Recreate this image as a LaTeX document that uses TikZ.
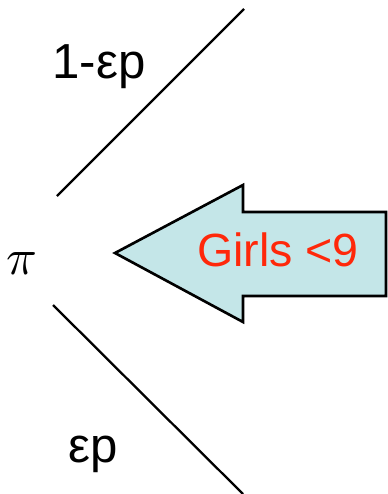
\documentclass[tikz,border=0pt]{standalone}
\usepackage{fontspec}
\setmainfont{Liberation Sans}
\definecolor{arrowfill}{RGB}{196, 230, 232}
\definecolor{girlsred}{RGB}{255, 40, 10}
\usetikzlibrary{positioning, calc}

\begin{document}
\begin{tikzpicture}[x=0.02cm, y=-0.02cm,
  branch/.style={line width=1.3pt},
  problabel/.style={font=\fontsize{28}{32}\selectfont, inner sep=0pt},
  bigarrow/.style={draw=black, line width=1.5pt, fill=arrowfill, line join=miter}
]
  \useasboundingbox (0,0) rectangle (387,494);
  % root and branches
  \node[inner sep=0pt] (root) at (22,264) {\scalebox{2.9}{$\pi$}};
  \coordinate (upstart) at (57,196);
  \coordinate (upend) at (244,9);
  \coordinate (lowstart) at (53,305);
  \coordinate (lowend) at (243,494);
  \draw[branch] (upstart) -- (upend);
  \draw[branch] (lowstart) -- (lowend);
  \node[problabel, anchor=base west] (uplabel) at (52,78) {1-εp};
  \node[problabel, anchor=base west] (lowlabel) at (68,462) {εp};
  % arrow pointing at the root
  \coordinate (tip) at (115,253);
  \draw[bigarrow] (tip) -- (243,185) -- (243,212) -- (386,212) -- (386,296)
    -- (243,296) -- (243,322) -- cycle;
  \node[font=\fontsize{26.5}{30}\selectfont, text=girlsred, inner sep=0pt] (girls) at (278,250) {Girls <9};
\end{tikzpicture}
\end{document}
